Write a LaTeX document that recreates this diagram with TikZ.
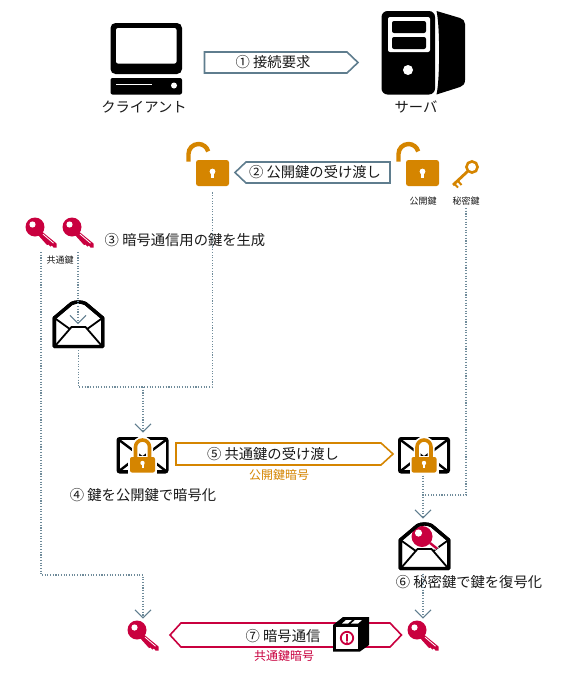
\documentclass[tikz,border=0pt]{standalone}
\usepackage{fontspec}
\setmainfont{Noto Sans CJK JP}
\usetikzlibrary{arrows.meta}
\definecolor{slate}{HTML}{5F7D8E}
\definecolor{dots}{HTML}{6F8B9A}
\definecolor{amber}{HTML}{D58500}
\definecolor{crimson}{HTML}{C9003F}
\definecolor{ink}{HTML}{1A1A1A}
\tikzset{
  x=1pt,y=-1pt,
  lbl/.style={text=ink,font=\fontsize{14.3}{15}\selectfont,inner sep=0pt},
  small/.style={text=ink,font=\fontsize{9}{10}\selectfont,inner sep=0pt},
  sub/.style={font=\fontsize{12}{13}\selectfont,inner sep=0pt},
  banner/.style={line width=1.6pt,line join=miter,fill=white},
  conn/.style={dots,line width=1.1pt,dash pattern=on 1.1pt off 1.6pt,
    -{Straight Barb[length=8pt,width=16pt,line width=1pt,color=slate]}},
  connplain/.style={dots,line width=1.1pt,dash pattern=on 1.1pt off 1.6pt},
  anchorbox/.style={inner sep=0pt,outer sep=0pt,minimum width=#1,minimum height=#1},
}
\newcommand{\keyicon}[3]{%
\begin{scope}[shift={(#1,#2)},scale=#3]
  \fill[crimson] (0,0) circle[radius=9.5];
  \fill[crimson] (5,3) -- (21.5,16.5) -- (21.5,20.5) -- (18.5,20.5) -- (17,18.5) -- (15.5,19.5) -- (13.5,17.5) -- (12,18) -- (3,8) -- cycle;
  \fill[white] (-2.5,-2.5) circle[radius=3.1];
  \draw[white,line width=.8pt] (8,7.2) -- (18.5,16.2);
\end{scope}}
\newcommand{\openlock}[2]{%
\begin{scope}[shift={(#1,#2)}]
  \draw[amber,line width=4.4pt] (-24,-11.5) -- (-24,-19) arc[start angle=180,end angle=345,radius=10];
  \fill[amber,rounded corners=2.5pt] (-16.5,-13) rectangle (16.5,13);
  \fill[white] (0,-1.5) circle[radius=2.9];
  \fill[white] (-1.3,-1.5) rectangle (1.3,5);
\end{scope}}
\newcommand{\lockmail}[2]{%
\begin{scope}[shift={(#1,#2)}]
  \fill[black,rounded corners=3pt] (-26,-18.5) rectangle (26,18);
  \fill[white] (-23,-15.5) rectangle (23,14.8);
  \draw[black,line width=2.4pt] (-24,-16) -- (0,2) -- (24,-16) (-24,16) -- (-6,2) (24,16) -- (6,2);
  \draw[white,line width=7pt] (-7,3) -- (-7,-8.5) arc[start angle=180,end angle=360,radius=7] -- (7,3);
  \fill[white] (-14.5,0) rectangle (14.5,18);
  \draw[amber,line width=3.6pt] (-7,3) -- (-7,-8.5) arc[start angle=180,end angle=360,radius=7] -- (7,3);
  \fill[amber,rounded corners=2pt] (-12.5,1.5) rectangle (12.5,17);
  \fill[white] (0,7.5) circle[radius=2.2];
  \fill[white] (-1,7.5) rectangle (1,12.5);
\end{scope}}
\newcommand{\mailoutline}{(-24.2,18) -- (-24.2,46.5) -- (24.2,46.5) -- (24.2,18) -- (7,3.5) .. controls (3,1.5) and (-3,1.5) .. (-7,3.5) -- cycle}
\newcommand{\openmailback}[2]{%
\begin{scope}[shift={(#1,#2)}]
  \draw[black,line width=3.4pt,line join=round,fill=white] \mailoutline;
  \draw[black,line width=1.8pt] (-24,18) -- (-8,29.5) (24,18) -- (8,29.5);
\end{scope}}
\newcommand{\openmailfront}[2]{%
\begin{scope}[shift={(#1,#2)}]
  \fill[white] (-22.5,45) -- (-8,28) -- (8,28) -- (22.5,45) -- cycle;
  \draw[black,line width=1.8pt,line join=round] (-23,45.5) -- (-7,27) -- (7,27) -- (23,45.5);
  \draw[black,line width=3.4pt,line join=round] \mailoutline;
\end{scope}}
\begin{document}
\begin{tikzpicture}
\useasboundingbox (0,0) rectangle (560,680);
\fill[white] (0,0) rectangle (560,680);

% client
\node[anchorbox=1pt] (client) at (146,58) {};
\fill[black,rounded corners=5pt] (110.5,23) rectangle (182,74);
\fill[white,rounded corners=2pt] (116,28) rectangle (176.5,63.5);
\fill[black,rounded corners=2pt] (110.5,78) rectangle (182,94.5);
\draw[white,line width=1.5pt] (116,84.5) -- (152,84.5);
\fill[white] (174,85.5) circle[radius=3];
\node[lbl] (clientlabel) at (144,107) {クライアント};

% server
\node[anchorbox=1pt] (server) at (420,52) {};
\fill[black,rounded corners=6pt] (381.5,11) rectangle (435,94.5);
\fill[black] (436.5,11) -- (460,18) .. controls (463,19) and (465,21) .. (465,24) -- (465,80) .. controls (465,84) and (463,86) .. (460,87) -- (436.5,94.5) .. controls (440,80) and (440,25) .. (436.5,11) -- cycle;
\fill[white,rounded corners=2pt] (388,17) rectangle (430,52);
\fill[black,rounded corners=2pt] (392,21) rectangle (426,33);
\fill[black,rounded corners=2pt] (392,37) rectangle (426,49);
\fill[white] (408,70) circle[radius=5];
\node[lbl] (serverlabel) at (416,107) {サーバ};

% banner 1
\draw[banner,draw=slate] (204.5,52) -- (347,52) -- (358,62.5) -- (347,73) -- (204.5,73) -- cycle;
\node[lbl] (t1) at (273,62.5) {① 接続要求};

% locks
\openlock{212.5}{173}
\openlock{422.5}{173}
\node[anchorbox=26pt] (lockL) at (212.5,173) {};
\draw[banner,draw=slate] (390,162) -- (246,162) -- (235,172.5) -- (246,183) -- (390,183) -- cycle;
\node[lbl] (t2) at (315,172.5) {② 公開鍵の受け渡し};

% orange key
\node[anchorbox=14pt] (privkey) at (472,167) {};
\draw[amber,line width=2.6pt] (472,167) circle[radius=5.6];
\draw[amber,line width=2.8pt] (467.5,171.5) -- (453,185);
\draw[amber,line width=2pt] (458,181) -- (461.5,185) (454.5,184) -- (458,187.5);
\node[small] (pub) at (423,201) {公開鍵};
\node[small] (priv) at (466,201) {秘密鍵};

% shared keys
\keyicon{35}{227}{1}
\keyicon{72}{227}{1}
\node[small] (shared) at (60,260) {共通鍵};
\node[lbl] (t3) at (185,240.5) {③ 暗号通信用の鍵を生成};

% open envelope 1
\openmailback{78.5}{300}
\openmailfront{78.5}{300}
\node[anchorbox=1pt] (mailA) at (78.5,349.5) {};
\coordinate (keyB) at (78,252);
\coordinate (mailAin) at (78,324);
\coordinate (keyA) at (41,252);
\coordinate (lockLow) at (212.5,192);

% lock mails
\lockmail{142.5}{455.5}
\lockmail{424}{455.5}
\node[anchorbox=1pt] (mailB) at (143,433) {};
\node[anchorbox=1pt] (mailC) at (423,475) {};
\draw[banner,draw=amber] (176,443) -- (381,443) -- (393,454) -- (381,465) -- (176,465) -- cycle;
\node[lbl] (t5) at (273,454) {⑤ 共通鍵の受け渡し};
\node[sub,text=amber] (s5) at (279,474.5) {公開鍵暗号};
\node[lbl] (t4) at (143,495) {④ 鍵を公開鍵で暗号化};

% open envelope with key
\openmailback{424.5}{522}
\begin{scope}
  \clip (401,541) -- (401,520) -- (448,520) -- (448,541) -- (432,552) -- (417,552) -- cycle;
  \fill[white] (422,536.5) circle[radius=12];
  \draw[white,line width=4.5pt] (430,543) -- (440,551);
  \draw[crimson,line width=2.4pt] (430,543) -- (440,551);
  \fill[crimson] (422,536.5) circle[radius=10.5];
  \fill[white] (418.5,533) circle[radius=3.6];
\end{scope}
\openmailfront{424.5}{522}
\node[anchorbox=1pt] (mailD) at (423,519) {};
\node[anchorbox=1pt] (mailDlow) at (423,573) {};
\node[lbl] (t6) at (469,582) {⑥ 秘密鍵で鍵を復号化};

% bottom
\draw[banner,draw=crimson] (181,623) -- (390,623) -- (401.5,635) -- (390,647) -- (181,647) -- (170,635) -- cycle;
\node[lbl] (t7) at (283,636) {⑦ 暗号通信};
\node[sub,text=crimson] (s7) at (284,656) {共通鍵暗号};
\keyicon{137}{630}{1}
\keyicon{417}{630}{1}
\node[anchorbox=1pt] (keyL) at (143,619) {};
\node[anchorbox=1pt] (keyR) at (423,619) {};

% box
\fill[black] (333,625) -- (343,617) -- (369,617) -- (369,645) -- (360,651.5) -- (333,651.5) -- cycle;
\fill[white] (335.5,626.5) rectangle (357.5,649);
\fill[white] (342,623.5) -- (346,620) -- (352,620) -- (348,623.5) -- cycle;
\fill[white] (351,623.5) -- (355,620) -- (362,620) -- (358,623.5) -- cycle;
\draw[crimson,line width=1.8pt] (347,638) circle[radius=6.2];
\draw[crimson,line width=1.8pt] (347,634) -- (347,641);
\fill[crimson] (347,642) circle[radius=1];

% connectors
\draw[conn] (keyB) -- (mailAin);
\draw[connplain] (mailA.south) |- (212.5,387) -- (lockLow);
\draw[conn] (143,387) -- (mailB.north);
\draw[conn] (keyA) |- (143,575) -- (keyL.north);
\draw[connplain] (466,208) |- (423,495);
\draw[conn] (mailC.south) -- (mailD.north);
\draw[conn] (mailDlow.south) -- (keyR.north);
\end{tikzpicture}
\end{document}
